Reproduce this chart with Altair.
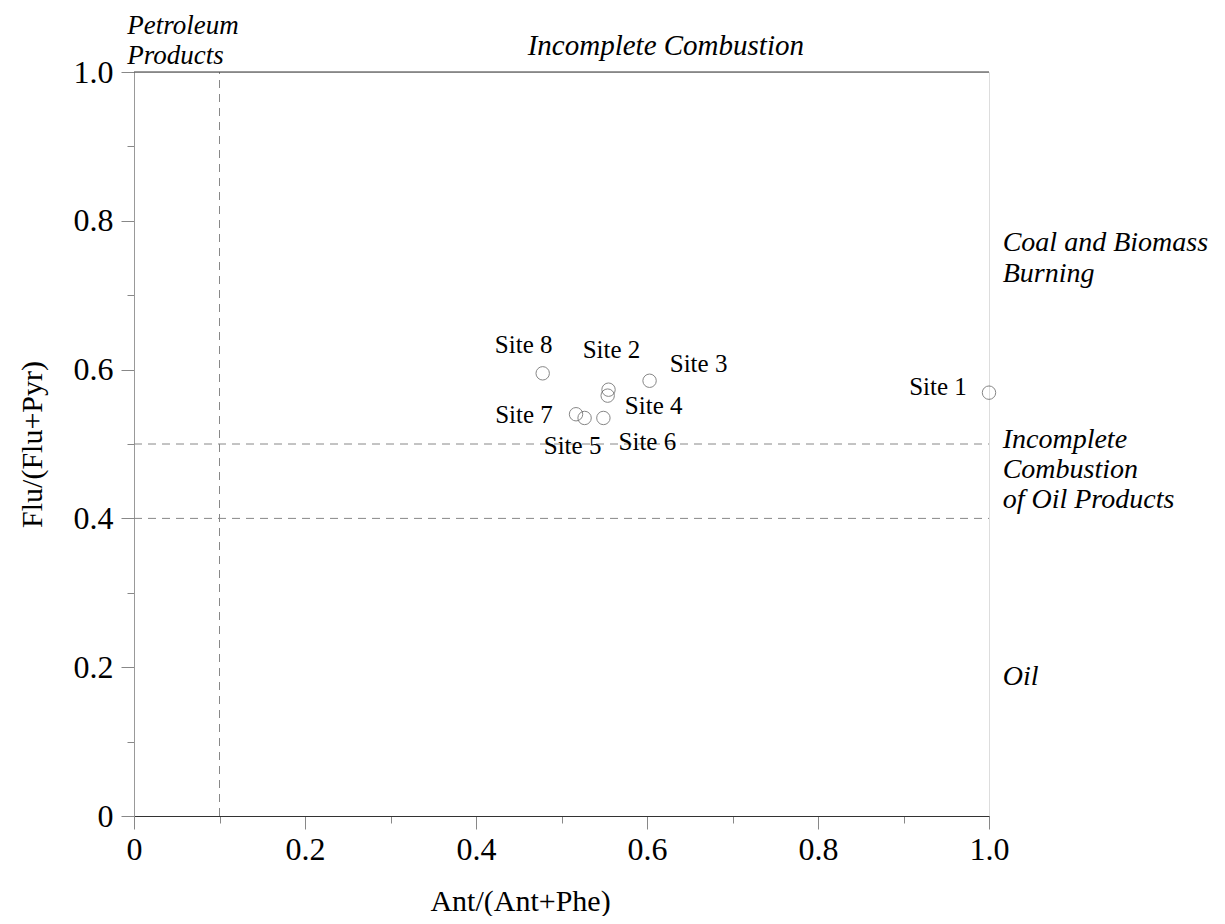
import altair as alt
import pandas as pd

# ---- data ----
sites = ["Site 1", "Site 2", "Site 3", "Site 4", "Site 5", "Site 6", "Site 7", "Site 8"]
ant_ratio = [1.000, 0.555, 0.603, 0.554, 0.527, 0.549, 0.517, 0.478]
flu_ratio = [0.569, 0.573, 0.585, 0.565, 0.535, 0.535, 0.540, 0.595]

tick_values = [0.0, 0.1, 0.2, 0.3, 0.4, 0.5, 0.6, 0.7, 0.8, 0.9, 1.0]
h_thresholds = [0.4, 0.5]
v_thresholds = [0.1]

region_text = [
    "Petroleum\nProducts",
    "Incomplete Combustion",
    "Coal and Biomass\nBurning",
    "Incomplete\nCombustion\nof Oil Products",
    "Oil",
]
region_x = [-0.008, 0.622, 1.016, 1.016, 1.016]
region_y = [1.0625, 1.035, 0.770, 0.505, 0.187]
region_align = ["left", "center", "left", "left", "left"]

FONT = "Liberation Serif"

pts = pd.DataFrame({"site": sites, "ant": ant_ratio, "flu": flu_ratio})

xscale = alt.Scale(domain=[0, 1], nice=False, zero=False)
yscale = alt.Scale(domain=[0, 1], nice=False, zero=False)

label_expr = ("round(datum.value*10) % 2 == 0 ? "
              "(datum.value == 0 ? '0' : format(datum.value, '.1f')) : ''")
tick_size = {"condition": {"test": "round(datum.value*10) % 2 == 0", "value": 13}, "value": 7}

x_axis = alt.Axis(values=tick_values, title="Ant/(Ant+Phe)", labelExpr=label_expr,
                  tickSize=tick_size, tickColor="#888", domainColor="#333",
                  labelFont=FONT, labelFontSize=32, labelColor="black", labelPadding=5,
                  labelOverlap=False, labelFlush=False,
                  titleFont=FONT, titleFontSize=30, titleFontWeight="normal",
                  titleColor="black", titlePadding=21, titleX=386, grid=False)
y_axis = alt.Axis(values=tick_values, title="Flu/(Flu+Pyr)", labelExpr=label_expr,
                  tickSize=tick_size, tickColor="#888", domainColor="#999",
                  labelFont=FONT, labelFontSize=32, labelColor="black", labelPadding=8,
                  labelOverlap=False, labelFlush=False,
                  titleFont=FONT, titleFontSize=30, titleFontWeight="normal",
                  titleColor="black", titlePadding=26, grid=False)

points = alt.Chart(pts).mark_point(shape="circle", filled=False, size=180,
                                   color="#555", strokeWidth=1).encode(
    x=alt.X("ant:Q", scale=xscale, axis=x_axis),
    y=alt.Y("flu:Q", scale=yscale, axis=y_axis),
)

label_offsets = {
    "Site 1": (-51, -6), "Site 2": (3, -40), "Site 3": (49, -17), "Site 4": (46, 10),
    "Site 5": (-12, 28), "Site 6": (44, 24), "Site 7": (-52, 1), "Site 8": (-19, -28),
}
label_layers = []
for s in sites:
    dx, dy = label_offsets[s]
    label_layers.append(
        alt.Chart(pts).transform_filter(alt.datum.site == s).mark_text(
            font=FONT, fontSize=25, color="black", dx=dx, dy=dy,
            align="center", baseline="middle").encode(
            x=alt.X("ant:Q", scale=xscale), y=alt.Y("flu:Q", scale=yscale), text="site:N")
    )

hl = alt.Chart(pd.DataFrame({"y": h_thresholds, "x0": [0] * 2, "x1": [1] * 2})).mark_rule(
    strokeDash=[8, 6], color="#888", strokeWidth=1).encode(
    y=alt.Y("y:Q", scale=yscale), x=alt.X("x0:Q", scale=xscale), x2="x1:Q")
vl = alt.Chart(pd.DataFrame({"x": v_thresholds, "y0": [0], "y1": [1]})).mark_rule(
    strokeDash=[8, 6], color="#888", strokeWidth=1).encode(
    x=alt.X("x:Q", scale=xscale), y=alt.Y("y0:Q", scale=yscale), y2="y1:Q")

top_line = alt.Chart(pd.DataFrame({"y": [1.0], "x0": [0.0], "x1": [1.0]})).mark_rule(
    color="#333", strokeWidth=1).encode(
    y=alt.Y("y:Q", scale=yscale), x=alt.X("x0:Q", scale=xscale), x2="x1:Q")

regions = pd.DataFrame({"t": region_text, "x": region_x, "y": region_y, "a": region_align})
region_style = {0: (27, 30), 1: (29, 31), 2: (28, 31), 3: (28, 30), 4: (28, 31)}
region_layers = []
for i, t in enumerate(region_text):
    fs, lh = region_style[i]
    region_layers.append(
        alt.Chart(regions).transform_filter(alt.datum.t == t).mark_text(
            font=FONT, fontSize=fs, fontStyle="italic", color="black", align=region_align[i],
            baseline="middle", lineBreak="\n", lineHeight=lh).encode(
            x=alt.X("x:Q", scale=xscale), y=alt.Y("y:Q", scale=yscale), text="t:N")
    )

chart = alt.layer(hl, vl, top_line, points, *label_layers, *region_layers).properties(
    width=855, height=744,
    autosize=alt.AutoSizeParams(type="none"),
    padding={"left": 126, "top": 64, "right": 228, "bottom": 100},
).configure_view(stroke="#999", strokeWidth=1).configure(background="white")

chart.save("out.html", embed_options={"renderer": "svg", "actions": False})
